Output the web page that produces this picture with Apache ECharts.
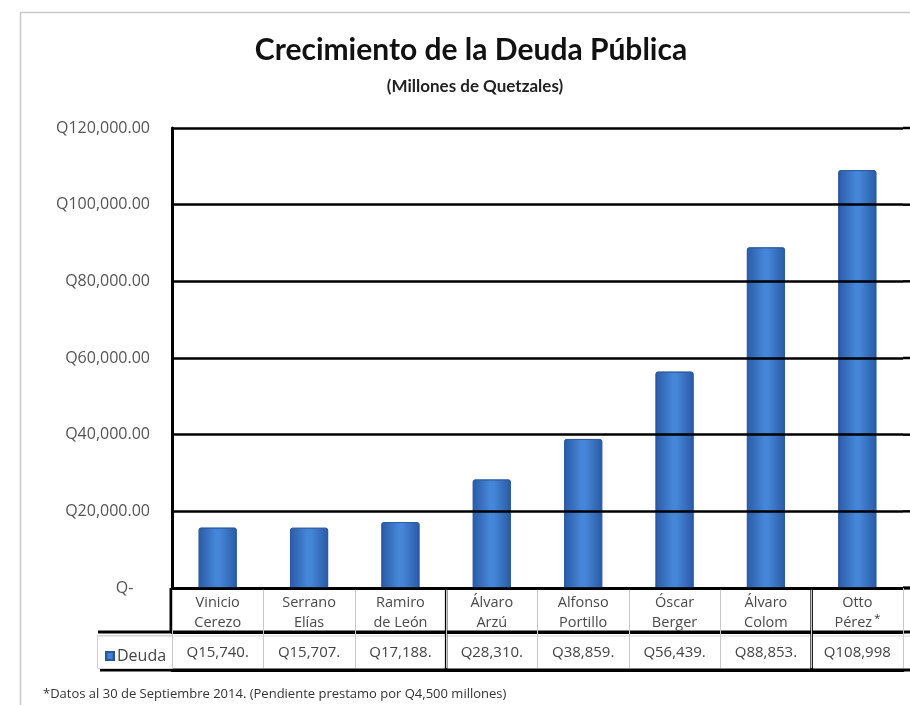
<!DOCTYPE html>
<html>
<head>
<meta charset="utf-8">
<script src="https://cdn.jsdelivr.net/npm/echarts@6/dist/echarts.min.js"></script>
<style>
html,body{margin:0;padding:0;background:#fff;}
#main{width:910px;height:705px;}
</style>
</head>
<body>
<div id="main"></div>
<script>
// ---- data ----
const categories = ['Vinicio\nCerezo', 'Serrano\nElías', 'Ramiro\nde León', 'Álvaro\nArzú', 'Alfonso\nPortillo', 'Óscar\nBerger', 'Álvaro\nColom', 'Otto\nPérez'];
const deuda = [15740, 15707, 17188, 28310, 38859, 56439, 88853, 108998];
const tableLabels = ['Q15,740.', 'Q15,707.', 'Q17,188.', 'Q28,310.', 'Q38,859.', 'Q56,439.', 'Q88,853.', 'Q108,998'];
const yTicks = [0, 20000, 40000, 60000, 80000, 100000, 120000];
const seriesName = 'Deuda';
const titleText = 'Crecimiento de la Deuda Pública';
const subtitleText = '(Millones de Quetzales)';
const footnote = '*Datos al 30 de Septiembre 2014. (Pendiente prestamo por Q4,500 millones)';
const starredIndex = 7;

const FONT = '"Open Sans", "Noto Sans", sans-serif';
const chart = echarts.init(document.getElementById('main'));

const barColor = new echarts.graphic.LinearGradient(0, 0, 1, 0, [
  {offset: 0, color: '#2a5ba6'},
  {offset: 0.45, color: '#4586d8'},
  {offset: 0.55, color: '#4586d8'},
  {offset: 1, color: '#2a5ba6'}
]);

const option = {
  backgroundColor: '#ffffff',
  animation: false,
  title: [
    {text: titleText, left: 466, top: 30, textAlign: 'center',
     textStyle: {fontFamily: 'Lato, sans-serif', fontWeight: 'bold', fontSize: 30, color: '#111'}},
    {text: subtitleText, left: 470, top: 73, textAlign: 'center',
     textStyle: {fontFamily: 'Lato, sans-serif', fontWeight: 'bold', fontSize: 17, color: '#222'}},
    {text: footnote, left: 38, top: 683,
     textStyle: {fontFamily: FONT, fontWeight: 'normal', fontSize: 13, color: '#333'}}
  ],
  legend: {
    data: [{name: seriesName, icon: 'rect'}],
    left: 100, top: 643, itemWidth: 8, itemHeight: 8, itemGap: 4,
    textStyle: {fontFamily: FONT, fontSize: 16, color: '#444', padding: [0,0,0,-2]}
  },
  grid: {left: 172, right: 7, top: 128, bottom: 117, containLabel: false},
  xAxis: [
    {
      type: 'category', data: categories, position: 'bottom',
      axisLine: {show: true, lineStyle: {color: '#000', width: 3}},
      axisTick: {show: true, interval: 0, length: 44, lineStyle: {color: '#c8c8c8', width: 1}},
      axisLabel: {
        interval: 0, margin: 5, fontFamily: FONT, fontSize: 14.5, lineHeight: 20, color: '#4a4a4a',
        formatter: (v, i) => i === starredIndex ? v + '{s|*}' : v,
        rich: {s: {fontSize: 11, color: '#333', verticalAlign: 'top', padding: [0,0,8,2]}}
      },
      splitLine: {show: false}
    },
    {
      type: 'category', data: tableLabels, position: 'bottom', offset: 44,
      axisLine: {show: true, lineStyle: {color: '#000', width: 3}},
      axisTick: {show: true, interval: 0, length: 36, lineStyle: {color: '#c8c8c8', width: 1}},
      axisLabel: {interval: 0, margin: 11, fontFamily: FONT, fontSize: 15, lineHeight: 20, color: '#444'},
      splitLine: {show: false}
    },
    {
      type: 'category', data: categories, position: 'bottom', offset: 82,
      axisLine: {show: true, lineStyle: {color: '#000', width: 3}},
      axisTick: {show: false}, axisLabel: {show: false}, splitLine: {show: false}
    }
  ],
  yAxis: {
    type: 'value', min: yTicks[0], max: yTicks[yTicks.length - 1], interval: yTicks[1] - yTicks[0],
    z: 5,
    axisLine: {show: true, lineStyle: {color: '#000', width: 3}},
    axisTick: {show: false},
    splitLine: {show: true, lineStyle: {color: '#000', width: 2.5}},
    axisLabel: {
      margin: 22, fontFamily: FONT, fontSize: 16, color: '#555',
      formatter: v => v === 0 ? 'Q-    ' : 'Q' + v.toLocaleString('en-US', {minimumFractionDigits: 2, maximumFractionDigits: 2})
    }
  },
  series: [{
    name: seriesName, type: 'bar', data: deuda, xAxisIndex: 0, barWidth: 38, z: 2,
    itemStyle: {color: barColor, borderColor: '#28579c', borderWidth: 0.8, borderRadius: [2,2,0,0]}
  }]
};
chart.setOption(option);

// decorative table rules derived from axis pixel positions
const px = i => chart.convertToPixel({xAxisIndex: 0}, categories[i]);
const py = v => chart.convertToPixel({yAxisIndex: 0}, v);
const band = px(1) - px(0);
const leftEdge = px(0) - band / 2;
const rightEdge = px(categories.length - 1) + band / 2;
const yBase = py(0);
const yRow1 = yBase + 44, yRow2 = yBase + 82;
const lineBlack = {stroke: '#000', lineWidth: 3};
const graphics = [
  {type: 'rect', shape: {x: 20.5, y: 12.5, width: 1000, height: 1000}, style: {fill: null, stroke: '#c8c8c8', lineWidth: 1.5}, silent: true},
  {type: 'line', shape: {x1: leftEdge - 1, y1: yBase, x2: leftEdge - 1, y2: yRow1}, style: lineBlack},
  {type: 'line', shape: {x1: 98, y1: yRow1, x2: 910, y2: yRow1}, style: lineBlack},
  {type: 'line', shape: {x1: 100, y1: yRow2, x2: 910, y2: yRow2}, style: lineBlack},
  {type: 'line', shape: {x1: rightEdge, y1: yBase, x2: 910, y2: yBase}, style: lineBlack},
  {type: 'rect', shape: {x: 97.5, y: yRow1 + 3.5, width: leftEdge - 97, height: yRow2 - yRow1 - 5}, style: {fill: null, stroke: '#cfcfcf', lineWidth: 1}},
  {type: 'line', shape: {x1: 97, y1: yRow1 + 4, x2: 910, y2: yRow1 + 4}, style: {stroke: '#d4d4d4', lineWidth: 1}}
];
[3, 7].forEach(i => {
  const x = (px(i - 1) + px(i)) / 2;
  graphics.push({type: 'line', shape: {x1: x, y1: yBase, x2: x, y2: yRow2}, style: {stroke: '#000', lineWidth: 2.5}});
});
yTicks.forEach(v => {
  graphics.push({type: 'line', shape: {x1: rightEdge, y1: py(v), x2: 910, y2: py(v)}, style: {stroke: '#000', lineWidth: 2.5}});
});
chart.setOption({graphic: graphics});
</script>
</body>
</html>
